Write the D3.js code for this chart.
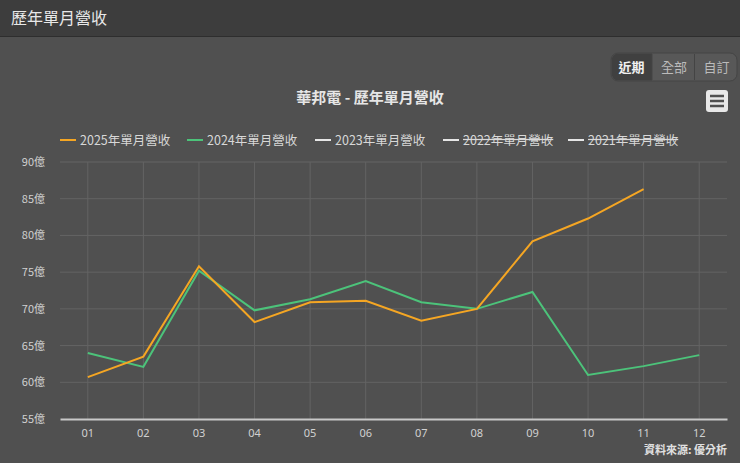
<!DOCTYPE html>
<html>
<head>
<meta charset="utf-8">
<script src="https://cdn.jsdelivr.net/npm/d3@7"></script>
<style>
  body { margin: 0; background: #505050; font-family: "Noto Sans CJK TC", "Noto Sans", sans-serif; }
  #head { height: 37px; background: #3d3d3d; border-bottom: 1px solid #2e2e2e; color: #e8e8e8;
          font-size: 16px; line-height: 34px; padding-left: 11px; box-sizing: border-box; }
</style>
</head>
<body>
<div id="head">歷年單月營收</div>
<div id="chart"></div>
<script>
// months on the x axis
const months = ["01","02","03","04","05","06","07","08","09","10","11","12"]
// monthly revenue, 億
const rev2025 = [60.7, 63.5, 75.8, 68.2, 70.9, 71.1, 68.4, 70.0, 79.2, 82.3, 86.3]
const rev2024 = [64.0, 62.1, 75.2, 69.8, 71.3, 73.8, 70.9, 70.0, 72.3, 61.0, 62.2, 63.7]
const yTicks = [55, 60, 65, 70, 75, 80, 85, 90]
const legendNames = ["2025年單月營收", "2024年單月營收", "2023年單月營收", "2022年單月營收", "2021年單月營收"]
const legendColors = ["#f5a623", "#4cc37a", "#e6e6e6", "#e6e6e6", "#e6e6e6"]
const legendHidden = [false, false, false, true, true]
const buttons = ["近期", "全部", "自訂"]

let W = 740, H = 426
let svg = d3.select("#chart").append("svg")
    .attr("width", W).attr("height", H)
    .style("display", "block")

// svg starts at y=37 of the page
let plotTop = 162 - 37, plotBottom = 419 - 37, plotLeft = 60, plotRight = 727

let x = d3.scaleBand().domain(months).range([plotLeft, plotRight])
let y = d3.scaleLinear().domain([55, 90]).range([plotBottom, plotTop])

// title
svg.append("text").attr("x", 370).attr("y", 66)
    .attr("text-anchor", "middle")
    .attr("fill", "#e6e6e6").attr("font-size", 15).attr("font-weight", "bold")
    .text("華邦電 - 歷年單月營收")

// button group
let bg = svg.append("g").attr("transform", "translate(611,16)")
bg.append("rect").attr("width", 126).attr("height", 28).attr("rx", 7)
    .attr("fill", "#585858").attr("stroke", "#444").attr("stroke-width", 1)
bg.append("path").attr("d", "M7,0.5 H41 V27.5 H7 A7,7 0 0 1 0.5,21 V7 A7,7 0 0 1 7,0.5 Z")
    .attr("fill", "#404040")
buttons.forEach((b, i) => {
    if (i > 0) bg.append("line").attr("x1", 41 + (i - 1) * 42.5).attr("x2", 41 + (i - 1) * 42.5)
        .attr("y1", 1).attr("y2", 27).attr("stroke", "#444")
    bg.append("text").attr("x", 20.5 + i * 42.5).attr("y", 19)
        .attr("text-anchor", "middle").attr("font-size", 13)
        .attr("font-weight", i == 0 ? "bold" : "normal")
        .attr("fill", i == 0 ? "#f0f0f0" : "#bbb")
        .text(b)
})

// hamburger menu
let menu = svg.append("g").attr("transform", "translate(706,53)")
menu.append("rect").attr("width", 22).attr("height", 22).attr("rx", 3).attr("fill", "#e8e8e8")
;[6, 11, 16].forEach(yy => menu.append("line")
    .attr("x1", 4).attr("x2", 18).attr("y1", yy).attr("y2", yy)
    .attr("stroke", "#505050").attr("stroke-width", 2.5))

// legend
let lx = [60, 187, 315, 443, 568]
legendNames.forEach((n, i) => {
    let g = svg.append("g").attr("transform", `translate(${lx[i]},${140 - 37})`)
    g.append("line").attr("x1", 0).attr("x2", 16).attr("stroke", legendColors[i]).attr("stroke-width", 2)
    let t = g.append("text").attr("x", 20).attr("y", 4.5).attr("font-size", 12.5)
        .attr("fill", "#d8d8d8").text(n)
    if (legendHidden[i]) t.attr("text-decoration", "line-through")
})

// grid
svg.append("g").selectAll("line").data(yTicks.slice(1)).enter().append("line")
    .attr("x1", plotLeft).attr("x2", plotRight)
    .attr("y1", d => y(d)).attr("y2", d => y(d))
    .attr("stroke", "#646464")
svg.append("g").selectAll("line").data(months).enter().append("line")
    .attr("x1", d => x(d) + x.bandwidth() / 2).attr("x2", d => x(d) + x.bandwidth() / 2)
    .attr("y1", plotTop).attr("y2", plotBottom)
    .attr("stroke", "#646464")

// y axis labels
let ya = svg.append("g").attr("transform", `translate(${plotLeft},0)`)
    .call(d3.axisLeft(y).tickValues(yTicks).tickSize(0).tickPadding(15).tickFormat(d => d + "億"))
ya.select(".domain").remove()
ya.selectAll("text").attr("fill", "#d0d0d0").attr("font-size", 11)
    .attr("font-family", "'Noto Sans CJK TC', sans-serif")

// x axis
let xa = svg.append("g").attr("transform", `translate(0,${plotBottom})`)
    .call(d3.axisBottom(x).tickSize(0).tickPadding(10))
xa.select(".domain").attr("stroke", "#c8c8c8").attr("stroke-width", 2)
xa.selectAll("text").attr("fill", "#d0d0d0").attr("font-size", 11)
    .attr("font-family", "'Noto Sans', sans-serif")

// lines
let line = d3.line()
    .x((d, i) => x(months[i]) + x.bandwidth() / 2)
    .y(d => y(d))
svg.append("path").datum(rev2024).attr("d", line)
    .attr("fill", "none").attr("stroke", legendColors[1]).attr("stroke-width", 2)
svg.append("path").datum(rev2025).attr("d", line)
    .attr("fill", "none").attr("stroke", legendColors[0]).attr("stroke-width", 2)

// credit
svg.append("text").attr("x", 727).attr("y", 454 - 37)
    .attr("text-anchor", "end").attr("font-size", 11).attr("font-weight", "bold")
    .attr("fill", "#e0e0e0").text("資料來源: 優分析")
</script>
</body>
</html>
